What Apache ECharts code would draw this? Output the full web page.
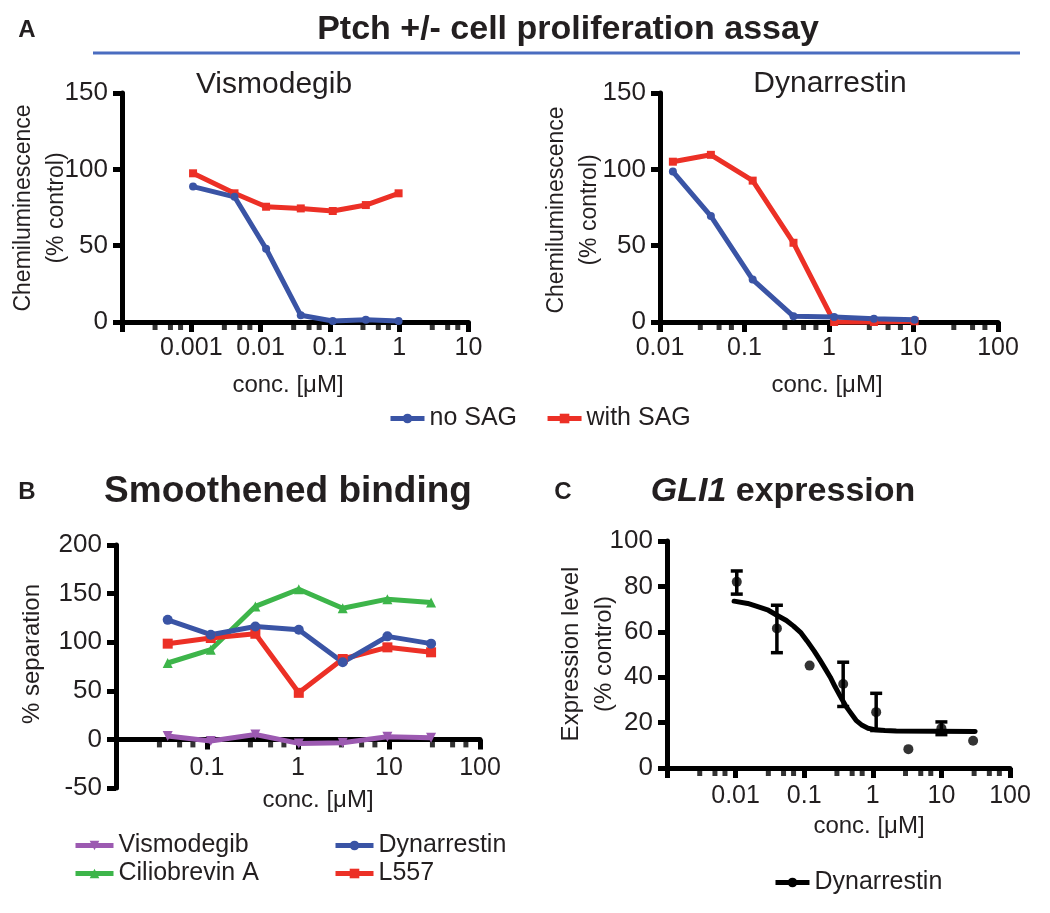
<!DOCTYPE html>
<html><head><meta charset="utf-8">
<script src="https://cdn.jsdelivr.net/npm/echarts@6/dist/echarts.min.js"></script>
<style>html,body{margin:0;padding:0;background:#fff}#c{width:1050px;height:913px}</style>
</head><body><div id="c"></div>
<script>
// ---------- DATA ----------
// Panel A (left): Vismodegib
const visConc = [0.00106, 0.0042, 0.012, 0.038, 0.11, 0.33, 0.98];
const visNoSAG = [88.7, 82, 48, 4.4, 0.7, 1.5, 0.7];
const visWithSAG = [97.4, 84.3, 75.5, 74.4, 72.7, 76.6, 84.3];
// Panel A (right): Dynarrestin
const dynConc = [0.0142, 0.04, 0.125, 0.38, 1.15, 3.4, 10.3];
const dynNoSAG = [98.5, 69.4, 27.8, 3.7, 3.3, 2.2, 1.5];
const dynWithSAG = [105, 109.5, 92.6, 51.9, 0, 0, 0.5];
// Panel B: Smoothened binding
const smoConc = [0.037, 0.11, 0.34, 1.02, 3.1, 9.6, 29];
const smoVismodegib = [3.4, -1.7, 5.1, -4.1, -3.4, 2.7, 1.7];
const smoDynarrestin = [123, 107.7, 116.2, 112.8, 79.3, 106, 98.5];
const smoCiliobrevin = [78.6, 92.3, 136.8, 154.5, 135, 144.3, 140.9];
const smoL557 = [98.5, 104.3, 108.7, 47.9, 82.7, 94.7, 89.6];
// Panel C: GLI1 expression
const gliConc = [0.0104, 0.04, 0.12, 0.37, 1.12, 3.3, 10, 29];
const gliMean = [82, 61.5, 45.1, 37, 24.6, 8.3, 17.5, 12];
const gliLow  = [76.6, 50.8, null, 27.1, 16.5, null, 14.7, null];
const gliHigh = [86.8, 71.7, null, 46.6, 32.9, null, 20.3, null];
// fitted curve
const gliFitConc = [0.0095, 0.015, 0.02, 0.03, 0.04, 0.055, 0.07, 0.09, 0.11, 0.14, 0.17, 0.2, 0.24, 0.28, 0.33, 0.4, 0.47, 0.57, 0.7, 0.85, 1.1, 1.5, 2.2, 31];
const gliFitY    = [73.5, 72.5, 71.3, 69.5, 67.3, 65, 62.5, 59.5, 56, 51.5, 47.5, 44, 40, 36, 32, 27.5, 24.5, 21, 18.8, 17.5, 16.8, 16.5, 16.3, 16.1];
// Tick labels
const xLabelsA1 = ['0.001', '0.01', '0.1', '1', '10'];
const xLabelsA2 = ['0.01', '0.1', '1', '10', '100'];
const xLabelsB = ['0.1', '1', '10', '100'];
const xLabelsC = ['0.01', '0.1', '1', '10', '100'];
const minorMantissas = [3, 5, 7];

// ---------- STYLE ----------
const FF = "'Liberation Sans', Arial, Helvetica, sans-serif";
const TXT = '#231f20';
const BLUE = '#3a54a5', RED = '#ec3026', GREEN = '#3db54a', PURPLE = '#9c5ab1';
const AXW = 5, LW = 5;

function zip(xs, ys) { return xs.map((x, i) => [x, ys[i]]); }
function minorTicks(e0, e1) {
  const out = [];
  for (let e = e0; e < e1; e++) minorMantissas.forEach(m => out.push([m * Math.pow(10, e), 0]));
  return out;
}
function fmt(v) { return String(+(+v).toPrecision(6)); }

function xLog(gridIndex, min, max, labels, margin) {
  return {
    type: 'log', logBase: 10, gridIndex, min, max,
    axisLine: { show: true, onZero: true, lineStyle: { color: '#000', width: AXW } },
    axisTick: { show: true, length: 10, lineStyle: { color: '#000', width: AXW } },
    axisLabel: { formatter: v => labels.includes(fmt(v)) ? fmt(v) : '', fontSize: 25, color: TXT, fontFamily: FF, margin: margin },
    splitLine: { show: false }
  };
}
function yVal(gridIndex, min, max, interval) {
  return {
    type: 'value', gridIndex, min, max, interval,
    axisLine: { show: true, onZero: false, lineStyle: { color: '#000', width: AXW } },
    axisTick: { show: true, length: 9, lineStyle: { color: '#000', width: AXW } },
    axisLabel: { fontSize: 26, color: TXT, fontFamily: FF, margin: 14 },
    splitLine: { show: false }
  };
}
function lineSeries(name, xi, xs, ys, color, symbol, size, extra) {
  return Object.assign({
    name, type: 'line', xAxisIndex: xi, yAxisIndex: xi, data: zip(xs, ys),
    symbol, symbolSize: size, showSymbol: true,
    lineStyle: { width: LW, color }, itemStyle: { color },
    clip: false, z: 3, animation: false
  }, extra || {});
}
function minorSeries(xi, e0, e1) {
  return {
    type: 'scatter', xAxisIndex: xi, yAxisIndex: xi, data: minorTicks(e0, e1),
    symbol: 'rect', symbolSize: [5, 8], symbolOffset: [0, 4],
    itemStyle: { color: '#000' }, silent: true, clip: false, z: 1, animation: false
  };
}
function text(t, x, y, size, extra) {
  return Object.assign({
    type: 'text', x, y,
    style: Object.assign({ text: t, fontSize: size, fontFamily: FF, fill: TXT,
      align: 'center', verticalAlign: 'middle', textAlign: 'center', textVerticalAlign: 'middle' }, (extra && extra.style) || {})
  }, extra ? { rotation: extra.rotation || 0 } : {});
}

const chart = echarts.init(document.getElementById('c'), null, { renderer: 'canvas' });

const legendText = { fontSize: 25, color: TXT, fontFamily: FF };
const legendLine = { width: 5 };

const option = {
  backgroundColor: '#fff',
  animation: false,
  grid: [
    { left: 122, top: 93, width: 346.5, height: 229 },
    { left: 660, top: 93, width: 338, height: 229 },
    { left: 116, top: 545, width: 364, height: 243 },
    { left: 667, top: 541, width: 343, height: 227 }
  ],
  xAxis: [
    xLog(0, 0.0001, 10, xLabelsA1, 14),
    xLog(1, 0.01, 100, xLabelsA2, 14),
    xLog(2, 0.01, 100, xLabelsB, -32),
    xLog(3, 0.001, 100, xLabelsC, 16)
  ],
  yAxis: [
    yVal(0, 0, 150, 50),
    yVal(1, 0, 150, 50),
    yVal(2, -50, 200, 50),
    yVal(3, 0, 100, 20)
  ],
  legend: [
    { data: ['no SAG', 'with SAG'], left: 388, top: 406, itemWidth: 34, itemHeight: 12, itemGap: 28, padding: 0, textStyle: legendText, lineStyle: legendLine },
    { data: ['Vismodegib', 'Ciliobrevin A'], orient: 'vertical', left: 73, top: 833, itemWidth: 38, itemHeight: 12, itemGap: 3, padding: 0, textStyle: legendText, lineStyle: legendLine },
    { data: ['Dynarrestin', 'L557'], orient: 'vertical', left: 333, top: 833, itemWidth: 38, itemHeight: 12, itemGap: 3, padding: 0, textStyle: legendText, lineStyle: legendLine },
    { data: [{ name: 'Dynarrestin', itemStyle: { color: '#000' }, lineStyle: { color: '#000' } }], left: 773, top: 870, itemWidth: 34, itemHeight: 12, padding: 0, textStyle: legendText, lineStyle: legendLine }
  ],
  series: [
    // Panel A left
    lineSeries('with SAG', 0, visConc, visWithSAG, RED, 'rect', 8),
    lineSeries('no SAG', 0, visConc, visNoSAG, BLUE, 'circle', 8),
    minorSeries(0, -4, 1),
    // Panel A right
    lineSeries('with SAG', 1, dynConc, dynWithSAG, RED, 'rect', 8),
    lineSeries('no SAG', 1, dynConc, dynNoSAG, BLUE, 'circle', 8),
    minorSeries(1, -2, 2),
    // Panel B
    lineSeries('Ciliobrevin A', 2, smoConc, smoCiliobrevin, GREEN, 'triangle', 10),
    lineSeries('L557', 2, smoConc, smoL557, RED, 'rect', 10),
    lineSeries('Dynarrestin', 2, smoConc, smoDynarrestin, BLUE, 'circle', 10),
    lineSeries('Vismodegib', 2, smoConc, smoVismodegib, PURPLE, 'triangle', 10, { symbolRotate: 180 }),
    minorSeries(2, -2, 2),
    // Panel C
    {
      name: 'Dynarrestin fit', type: 'line', xAxisIndex: 3, yAxisIndex: 3,
      data: zip(gliFitConc, gliFitY), smooth: false, showSymbol: false, symbol: 'none',
      lineStyle: { width: 5, color: '#000', join: 'round', cap: 'round' }, itemStyle: { color: '#000' }, clip: false, z: 3
    },
    {
      name: 'Dynarrestin SEM', type: 'custom', xAxisIndex: 3, yAxisIndex: 3,
      data: gliConc.map((x, i) => [x, gliLow[i], gliHigh[i]]).filter(d => d[1] != null),
      encode: { x: 0, y: [1, 2] }, clip: false, z: 4,
      renderItem: function (params, api) {
        const x = api.value(0);
        const lo = api.coord([x, api.value(1)]);
        const hi = api.coord([x, api.value(2)]);
        const hw = 6, st = { stroke: '#000', lineWidth: 3.5 };
        return { type: 'group', children: [
          { type: 'line', shape: { x1: lo[0], y1: lo[1], x2: hi[0], y2: hi[1] }, style: st },
          { type: 'line', shape: { x1: hi[0] - hw, y1: hi[1], x2: hi[0] + hw, y2: hi[1] }, style: st },
          { type: 'line', shape: { x1: lo[0] - hw, y1: lo[1], x2: lo[0] + hw, y2: lo[1] }, style: st }
        ] };
      }
    },
    {
      name: 'Dynarrestin', type: 'scatter', xAxisIndex: 3, yAxisIndex: 3,
      data: zip(gliConc, gliMean), symbol: 'circle', symbolSize: 10,
      itemStyle: { color: '#000' }, clip: false, z: 5
    },
    minorSeries(3, -3, 2)
  ],
  graphic: [
    text('A', 27, 30, 24, { style: { fontWeight: 'bold' } }),
    text('Ptch +/- cell proliferation assay', 568, 30, 34, { style: { fontWeight: 'bold' } }),
    { type: 'line', shape: { x1: 93, y1: 53, x2: 1020, y2: 53 }, style: { stroke: '#4a6cc0', lineWidth: 3 } },
    text('Vismodegib', 274, 85, 30),
    text('Dynarrestin', 830, 84, 30),
    text('Chemiluminescence\n(% control)', 40, 208, 23, { rotation: Math.PI / 2, style: { lineHeight: 33 } }),
    text('Chemiluminescence\n(% control)', 573, 210, 23, { rotation: Math.PI / 2, style: { lineHeight: 33 } }),
    text('conc. [μM]', 288, 385, 24),
    text('conc. [μM]', 827, 385, 24),
    text('B', 27, 492, 24, { style: { fontWeight: 'bold' } }),
    text('Smoothened binding', 288, 492, 37, { style: { fontWeight: 'bold' } }),
    text('% separation', 32, 654, 24, { rotation: Math.PI / 2 }),
    text('conc. [μM]', 318, 800, 24),
    text('C', 563, 492, 24, { style: { fontWeight: 'bold' } }),
    text('{i|GLI1} expression', 783, 492, 34, { style: { fontWeight: 'bold',
      rich: { i: { fontStyle: 'italic', fontWeight: 'bold', fontSize: 34, fontFamily: FF, fill: TXT } } } }),
    text('Expression level\n(% control)', 588, 654, 24, { rotation: Math.PI / 2, style: { lineHeight: 33 } }),
    text('conc. [μM]', 869, 826, 24)
  ]
};
chart.setOption(option);
</script>
</body></html>
